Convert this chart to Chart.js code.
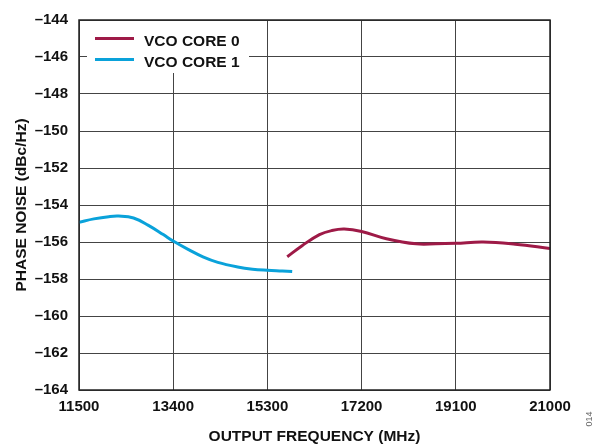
<!DOCTYPE html>
<html><head><meta charset="utf-8">
<script src="https://cdn.jsdelivr.net/npm/chart.js@4/dist/chart.umd.min.js"></script>
<style>html,body{margin:0;padding:0;background:#fff}#wrap{width:600px;height:446px}</style>
</head><body><div id="wrap"><canvas id="c" width="600" height="446"></canvas></div>
<script>
const xTicks = [11500, 13400, 15300, 17200, 19100, 21000];
const yTicks = [-164, -162, -160, -158, -156, -154, -152, -150, -148, -146, -144];
const core0Freq = [15700, 16000, 16350, 16600, 16850, 17200, 17700, 18300, 18700, 19100, 19650, 20300, 21000];
const core0Noise = [-156.8, -156.2, -155.6, -155.38, -155.3, -155.43, -155.82, -156.1, -156.1, -156.07, -156.0, -156.12, -156.35];
const core1Freq = [11500, 11800, 12100, 12300, 12600, 12900, 13200, 13400, 13700, 14000, 14300, 14700, 15000, 15300, 15600, 15800];
const core1Noise = [-154.93, -154.75, -154.63, -154.6, -154.7, -155.1, -155.6, -155.95, -156.4, -156.8, -157.1, -157.35, -157.47, -157.53, -157.57, -157.6];
const seriesLabels = ["VCO CORE 0", "VCO CORE 1"];
const FONT = '"Liberation Sans", Arial, sans-serif';

const pts = (xs, ys) => xs.map((x, i) => ({x, y: ys[i]}));

const overlay = {
  id: 'overlay',
  afterDraw(chart) {
    const ctx = chart.ctx, a = chart.chartArea;
    ctx.save();
    // legend
    ctx.fillStyle = '#fff';
    ctx.fillRect(a.left + 8, a.top + 1, 162, 52);
    const items = chart.data.datasets;
    ctx.font = 'bold 15.5px ' + FONT;
    ctx.textBaseline = 'middle';
    items.forEach((ds, i) => {
      const y = a.top + 18.5 + i * 21;
      ctx.strokeStyle = ds.borderColor;
      ctx.lineWidth = 3;
      ctx.beginPath(); ctx.moveTo(a.left + 16, y); ctx.lineTo(a.left + 55, y); ctx.stroke();
      ctx.fillStyle = '#111';
      ctx.fillText(ds.label, a.left + 65, y + 3);
    });
    // axis titles
    ctx.fillStyle = '#111';
    ctx.font = 'bold 15.5px ' + FONT;
    ctx.textAlign = 'center';
    ctx.fillText('OUTPUT FREQUENCY (MHz)', (a.left + a.right) / 2, 437);
    ctx.save();
    ctx.translate(22, (a.top + a.bottom) / 2);
    ctx.rotate(-Math.PI / 2);
    ctx.fillText('PHASE NOISE (dBc/Hz)', 0, 0);
    ctx.restore();
    ctx.save();
    ctx.fillStyle = '#666';
    ctx.font = '9px ' + FONT;
    ctx.translate(590, 419);
    ctx.rotate(-Math.PI / 2);
    ctx.fillText('014', 0, 0);
    ctx.restore();
    // border
    ctx.strokeStyle = '#222';
    ctx.lineWidth = 1.5;
    ctx.strokeRect(a.left, a.top, a.right - a.left, a.bottom - a.top);
    ctx.restore();
  }
};

new Chart(document.getElementById('c'), {
  type: 'scatter',
  data: {
    datasets: [
      {label: seriesLabels[0], data: pts(core0Freq, core0Noise), showLine: true, borderColor: '#9e1a47', borderWidth: 3, pointRadius: 0, tension: 0.4, fill: false},
      {label: seriesLabels[1], data: pts(core1Freq, core1Noise), showLine: true, borderColor: '#0aa2da', borderWidth: 3, pointRadius: 0, tension: 0.4, fill: false}
    ]
  },
  options: {
    responsive: false,
    animation: false,
    events: [],
    layout: {padding: {top: 15, right: 50, left: 0, bottom: 0}},
    plugins: {legend: {display: false}, tooltip: {enabled: false}},
    scales: {
      x: {
        type: 'linear', min: xTicks[0], max: xTicks[xTicks.length - 1],
        afterBuildTicks: s => { s.ticks = xTicks.map(v => ({value: v})); },
        afterFit: s => { s.height = 56; },
        grid: {color: '#444', lineWidth: 1, drawTicks: false},
        border: {display: false},
        ticks: {padding: 8, color: '#111', font: {family: FONT, size: 15, weight: 'bold'}, maxRotation: 0, autoSkip: false, callback: v => String(v)}
      },
      y: {
        type: 'linear', min: yTicks[0], max: yTicks[yTicks.length - 1],
        afterBuildTicks: s => { s.ticks = yTicks.map(v => ({value: v})); },
        afterFit: s => { s.width = 79; },
        grid: {color: '#444', lineWidth: 1, drawTicks: false},
        border: {display: false},
        ticks: {padding: 11, color: '#111', font: {family: FONT, size: 15, weight: 'bold'}, autoSkip: false, callback: v => '\u2013' + Math.abs(v)}
      }
    }
  },
  plugins: [overlay]
});
</script></body></html>
